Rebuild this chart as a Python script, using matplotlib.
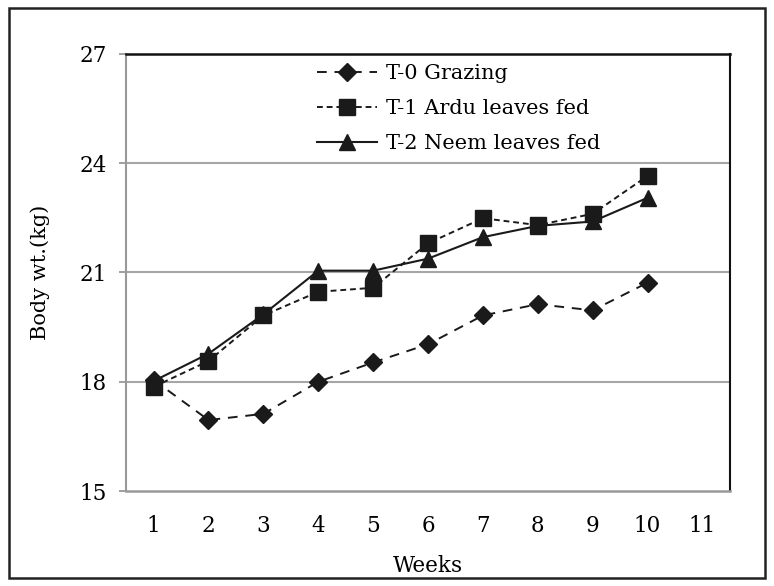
import matplotlib.pyplot as plt
from matplotlib.patches import Rectangle

plt.rcParams["font.family"] = "DejaVu Serif"

weeks = [1, 2, 3, 4, 5, 6, 7, 8, 9, 10]
t0_grazing = [18.05, 16.95, 17.12, 18.0, 18.53, 19.03, 19.82, 20.13, 19.96, 20.72]
t1_ardu = [17.86, 18.57, 19.82, 20.47, 20.58, 21.80, 22.49, 22.30, 22.61, 23.65]
t2_neem = [18.02, 18.77, 19.85, 21.05, 21.05, 21.38, 21.97, 22.28, 22.40, 23.05]
xticks = list(range(1, 12))
yticks = [15, 18, 21, 24, 27]

fig = plt.figure(figsize=(7.74, 5.86), dpi=100)
ax = fig.add_axes([0.163, 0.162, 0.78, 0.746])

# border around the whole figure
fig.patches.append(Rectangle((0.011, 0.013), 0.978, 0.974, transform=fig.transFigure,
                             fill=False, edgecolor="#222222", linewidth=1.8))

for y in [18, 21, 24]:
    ax.axhline(y, color="#a6a6a6", linewidth=1.5, zorder=0)

ax.plot(weeks, t0_grazing, color="#1a1a1a", linestyle=(0, (5, 4)), linewidth=1.4,
        marker="D", markersize=9.5, label="T-0 Grazing")
ax.plot(weeks, t1_ardu, color="#1a1a1a", linestyle=(0, (3, 2)), linewidth=1.4,
        marker="s", markersize=11, label="T-1 Ardu leaves fed")
ax.plot(weeks, t2_neem, color="#1a1a1a", linestyle="-", linewidth=1.5,
        marker="^", markersize=11, label="T-2 Neem leaves fed")

ax.set_xlim(0.5, 11.5)
ax.set_ylim(15, 27)
ax.set_xticks(xticks)
ax.set_yticks(yticks)

ax.spines["left"].set_color("#999999")
ax.spines["bottom"].set_color("#999999")
ax.spines["left"].set_linewidth(1.5)
ax.spines["bottom"].set_linewidth(1.8)
ax.spines["top"].set_color("#111111")
ax.spines["right"].set_color("#111111")
ax.spines["top"].set_linewidth(1.8)
ax.spines["right"].set_linewidth(1.5)

ax.tick_params(axis="y", length=5, width=1.3, color="#999999", pad=9, labelsize=15.5)
ax.tick_params(axis="x", length=0, pad=17, labelsize=15.5)

ax.set_xlabel("Weeks", fontsize=15.5, labelpad=13)
ax.set_ylabel("Body wt.(kg)", fontsize=15, labelpad=21)

ax.legend(loc="upper left", bbox_to_anchor=(0.285, 1.02), frameon=False, fontsize=15,
          handlelength=2.9, labelspacing=0.78, handletextpad=0.4)

fig.savefig("out.png", dpi=100)
